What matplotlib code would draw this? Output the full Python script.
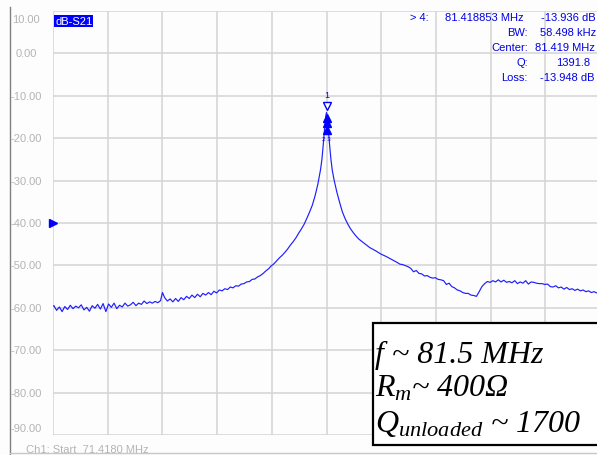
import matplotlib
matplotlib.use("Agg")
import matplotlib.pyplot as plt
from matplotlib.patches import Rectangle
from matplotlib.lines import Line2D

# ---------------- data ----------------
freq_mhz = [
    71.418, 71.45, 71.55, 71.65, 71.75, 71.85, 71.95, 72.05, 72.15, 72.25, 72.35,
    72.45, 72.55, 72.65, 72.75, 72.85, 72.95, 73.05, 73.15, 73.25, 73.35,
    73.45, 73.55, 73.65, 73.75, 73.85, 73.95, 74.05, 74.15, 74.25, 74.35,
    74.45, 74.55, 74.65, 74.75, 74.85, 74.95, 75.05, 75.15, 75.25, 75.35,
    75.42, 75.5, 75.6, 75.7, 75.8, 75.9, 76.0, 76.1, 76.2, 76.3,
    76.4, 76.5, 76.6, 76.7, 76.8, 76.9, 77.0, 77.1, 77.2, 77.3,
    77.4, 77.5, 77.6, 77.7, 77.8, 77.9, 78.0, 78.1, 78.2, 78.3,
    78.4, 78.5, 78.6, 78.7, 78.8, 78.9, 79.0, 79.1, 79.2, 79.3,
    79.4, 79.5, 79.6, 79.7, 79.8, 79.9, 80.0, 80.1, 80.2, 80.3,
    80.4, 80.5, 80.6, 80.7, 80.8, 80.9, 81.0, 81.1, 81.2, 81.25,
    81.3, 81.35, 81.39, 81.418, 81.44, 81.48, 81.53, 81.58, 81.63, 81.7,
    81.8, 81.9, 82.0, 82.1, 82.2, 82.3, 82.4, 82.5, 82.6, 82.7,
    82.8, 82.9, 83.0, 83.2, 83.4, 83.6, 83.8, 84.0, 84.1, 84.2,
    84.4, 84.5, 84.6, 84.7, 84.8, 84.9, 85.0, 85.1, 85.2, 85.3,
    85.4, 85.5, 85.6, 85.7, 85.8, 85.9, 86.0, 86.1, 86.2, 86.3,
    86.4, 86.5, 86.6, 86.7, 86.8, 86.9, 87.0, 87.1, 87.2, 87.3,
    87.4, 87.5, 87.6, 87.7, 87.8, 87.9, 88.0, 88.1, 88.2, 88.3,
    88.4, 88.5, 88.6, 88.7, 88.8, 88.9, 89.0, 89.1, 89.2, 89.3,
    89.4, 89.5, 89.6, 89.7, 89.8, 89.9, 90.0, 90.1, 90.2, 90.3,
    90.4, 90.5, 90.6, 90.7, 90.8, 90.9, 91.0, 91.1, 91.2, 91.3,
    91.418,
]
s21_db = [
    -59.6, -59.5, -60.6, -59.8, -60.9, -59.7, -60.4, -59.4, -60.2, -59.6, -60.0,
    -59.3, -60.5, -59.9, -60.8, -59.5, -60.1, -59.2, -60.3, -59.0, -60.9,
    -59.1, -59.9, -58.9, -60.2, -59.4, -59.8, -58.9, -59.6, -59.3, -58.7,
    -59.5, -58.9, -59.2, -58.4, -59.0, -58.6, -58.9, -58.5, -58.8, -58.3,
    -56.4, -57.6, -58.4, -57.9, -58.6, -57.8, -58.5, -57.6, -58.1, -57.3,
    -57.8, -57.0, -57.6, -56.8, -57.4, -56.6, -57.0, -56.4, -56.9, -56.1,
    -56.5, -55.8, -56.0, -55.5, -55.7, -55.1, -55.3, -54.8, -54.9, -54.4,
    -54.3, -53.9, -53.8, -53.3, -53.2, -52.7, -52.4, -51.9, -51.3, -50.8,
    -50.1, -49.6, -48.9, -48.2, -47.6, -46.9, -46.1, -45.2, -44.4, -43.5,
    -42.4, -41.4, -40.3, -38.9, -37.4, -35.8, -33.6, -30.9, -27.4, -25.0,
    -21.5, -17.5, -14.8, -13.94, -14.6, -17.5, -21.5, -25.0, -27.6, -30.0,
    -32.8, -35.2, -37.4, -39.0, -40.3, -41.4, -42.3, -43.1, -43.8, -44.3,
    -44.8, -45.3, -45.8, -46.5, -47.3, -47.9, -48.6, -49.3, -49.7, -49.8,
    -50.3, -50.7, -51.5, -51.2, -51.9, -52.0, -52.5, -52.4, -52.8, -53.0,
    -52.9, -53.3, -53.4, -53.6, -54.5, -54.2, -55.0, -55.3, -55.8, -56.0,
    -56.4, -56.6, -56.6, -57.0, -57.1, -57.3, -56.2, -55.0, -54.3, -53.8,
    -54.0, -53.6, -53.9, -53.4, -53.9, -53.5, -54.0, -53.8, -54.1, -53.6,
    -54.3, -53.9, -54.2, -53.6, -54.4, -53.9, -54.0, -54.2, -54.3, -54.3,
    -54.5, -54.4, -55.0, -55.1, -54.8, -55.3, -55.1, -55.6, -55.2, -55.7,
    -55.5, -55.9, -55.6, -56.0, -55.8, -56.2, -56.0, -56.4, -56.2, -56.5,
    -56.4,
]
ytick_vals = [10, 0, -10, -20, -30, -40, -50, -60, -70, -80, -90]
ytick_labels = ["10.00", "0.00", "-10.00", "-20.00", "-30.00", "-40.00",
                "-50.00", "-60.00", "-70.00", "-80.00", "-90.00"]
start_mhz = 71.418
stop_mhz = 91.418
xtick_vals = [71.418, 73.418, 75.418, 77.418, 79.418, 81.418,
              83.418, 85.418, 87.418, 89.418, 91.418]
peak_f = 81.418
marker_up_db = [-15.2, -16.4, -18.1]
marker_down_db = -12.4
marker_label_db = -9.6
ref_level_db = -40

readout_labels = ["> 4:", "BW:", "Center:", "Q:", "Loss:"]
readout_values = ["81.418853 MHz", "58.498 kHz", "81.419 MHz", "1391.8", "-13.948 dB"]
readout_extra = "-13.936 dB"
box_lines = ["f ~ 81.5 MHz", r"$R_m$~ 400Ω", r"$Q_{unloaded}$ ~ 1700"]

# ---------------- figure ----------------
W, H = 597, 456
plt.rcParams["mathtext.fontset"] = "custom"
plt.rcParams["mathtext.it"] = "Liberation Serif:italic"
plt.rcParams["mathtext.rm"] = "Liberation Serif:italic"

fig = plt.figure(figsize=(W / 100, H / 100), dpi=100, facecolor="#fdfdfd")

def fx(px):
    return px / W

def fy(py):
    return 1 - py / H

ax_left, ax_right, ax_top, ax_bot = 53, 600, 12, 436
ax = fig.add_axes([fx(ax_left), fy(ax_bot), (ax_right - ax_left) / W, (ax_bot - ax_top) / H])
ax.set_facecolor("#fdfdfd")
ax.set_xlim(start_mhz, stop_mhz)
ax.set_ylim(-90, 10)
ax.set_xticks(xtick_vals)
ax.set_yticks(ytick_vals)
ax.tick_params(length=0, labelleft=False, labelbottom=False)
ax.grid(True, color="#d4d4d4", linewidth=1.1)
for s in ax.spines.values():
    s.set_visible(False)

ax.plot(freq_mhz, s21_db, color="#1e1eff", linewidth=0.85, zorder=3)

# peak markers
ax.plot([peak_f], [marker_down_db], marker="v", markersize=6, markerfacecolor="white",
        markeredgecolor="#0000ff", markeredgewidth=1.0, linestyle="none", zorder=4)
ax.plot([peak_f] * len(marker_up_db), marker_up_db, marker="^", markersize=5.5,
        color="#0000ff", linestyle="none", zorder=4)
ax.text(peak_f, marker_label_db, "1", color="#0000ff", fontsize=6.5,
        family="Liberation Sans", ha="center", va="center", zorder=5)
ax.text(peak_f, -20.0, "2 3", color="#0000ff", fontsize=4.5,
        family="Liberation Sans", ha="center", va="center", zorder=5)

# reference level arrow
ax.plot([start_mhz], [ref_level_db], marker=">", markersize=6, color="#0000ff",
        clip_on=False, zorder=5)

# y labels
ytr = ax.get_yaxis_transform()
xlab = -(ax_left - 26) / (ax_right - ax_left)
for v, lab in zip(ytick_vals, ytick_labels):
    va = "center"
    yy = v
    if v == 10:
        va = "top"
        yy = 9.3
    elif v == -90:
        va = "bottom"
        yy = -89.5
    ax.text(xlab, yy, lab, transform=ytr, ha="center", va=va, fontsize=8,
            family="Liberation Sans", color="#b4b4b4", clip_on=False)

# window border lines
fig.add_artist(Line2D([fx(9.5), fx(9.5)], [fy(8), fy(456)], color="#808080", linewidth=1.0))
fig.add_artist(Line2D([fx(9.5), fx(597)], [fy(454), fy(454)], color="#c8c8c8", linewidth=1.0))

fig.text(fx(26), fy(450), "Ch1: Start  71.4180 MHz", fontsize=8, family="Liberation Sans",
         color="#b4b4b4", ha="left", va="center")

# dB-S21 label
fig.text(fx(55), fy(22), "dB-S21", fontsize=8, family="Liberation Sans", color="white",
         ha="left", va="center",
         bbox=dict(boxstyle="square,pad=0.1", facecolor="#0000ff", edgecolor="none"))

# marker readout
blue = "#0000e6"
rows_y = [18, 33, 48, 63, 78]
for i, (lab, val) in enumerate(zip(readout_labels, readout_values)):
    lx = 429 if i == 0 else 528
    fig.text(fx(lx), fy(rows_y[i]), lab, fontsize=8, family="Liberation Sans",
             color=blue, ha="right", va="center")
    if i == 0:
        fig.text(fx(445), fy(rows_y[i]), val, fontsize=8, family="Liberation Sans",
                 color=blue, ha="left", va="center")
    elif val == "1391.8":
        fig.text(fx(590), fy(rows_y[i]), val, fontsize=8, family="Liberation Sans",
                 color=blue, ha="right", va="center")
    else:
        vx = {1: 540, 2: 535, 4: 540}[i]
        fig.text(fx(vx), fy(rows_y[i]), val, fontsize=8, family="Liberation Sans",
                 color=blue, ha="left", va="center")
fig.text(fx(596), fy(rows_y[0]), readout_extra, fontsize=8, family="Liberation Sans",
         color=blue, ha="right", va="center")

# annotation box
fig.add_artist(Rectangle((fx(373), fy(446)), (602 - 373) / W, (446 - 324) / H,
                         transform=fig.transFigure, facecolor="white", edgecolor="black",
                         linewidth=1.6, zorder=6))
for txt, base in zip(box_lines, [363, 397, 432]):
    fig.text(fx(375), fy(base), txt, fontsize=23, family="Liberation Serif",
             style="italic", color="black", ha="left", va="baseline", zorder=7)

fig.savefig("out.png", dpi=100, facecolor=fig.get_facecolor())
